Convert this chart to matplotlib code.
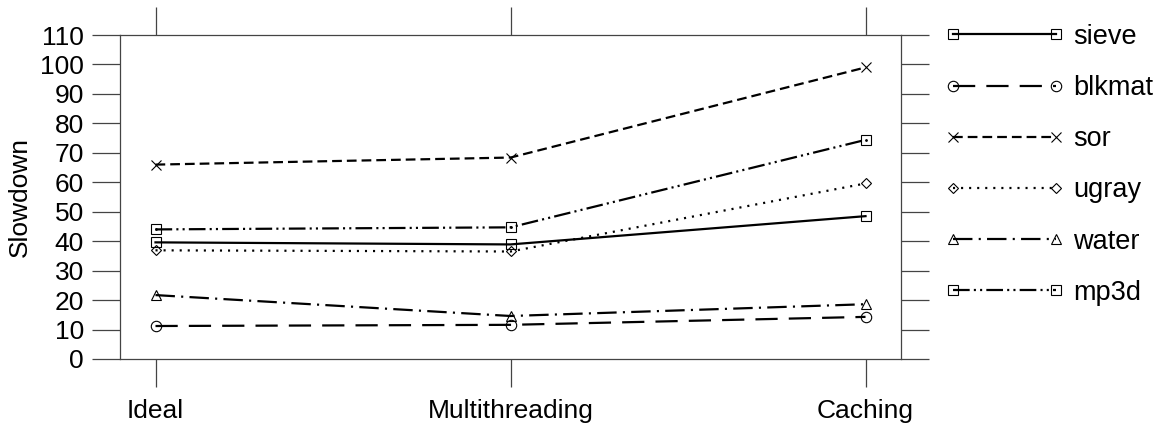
import matplotlib
matplotlib.use("Agg")
import matplotlib.pyplot as plt

plt.rcParams['font.family'] = ['Liberation Sans', 'DejaVu Sans']
plt.rcParams['lines.scale_dashes'] = False

categories = ["Ideal", "Multithreading", "Caching"]
sieve = [39.6, 38.9, 48.5]
blkmat = [11.2, 11.6, 14.3]
sor = [66.0, 68.4, 99.0]
ugray = [36.9, 36.5, 59.6]
water = [21.7, 14.6, 18.6]
mp3d = [44.0, 44.7, 74.4]

series = [
    ("sieve", sieve, "-", "s"),
    ("blkmat", blkmat, (0, (16, 8)), "o"),
    ("sor", sor, (0, (7, 3.6)), "x"),
    ("ugray", ugray, (0, (1.5, 4.3)), "D"),
    ("water", water, (0, (14, 4.5, 1.5, 4.5)), "^"),
    ("mp3d", mp3d, (0, (12, 3, 1.5, 3, 1.5, 3)), "s"),
]
msizes = {"s": 7, "o": 7.5, "x": 7.5, "D": 5, "^": 6.5}

fig = plt.figure(figsize=(11.55, 4.25), dpi=100)
ax = fig.add_axes([0.1039, 0.1553, 0.6762, 0.7623])

x = range(len(categories))
for name, vals, ls, mk in series:
    ax.plot(x, vals, linestyle=ls, color="black", linewidth=1.6,
            marker=mk, markersize=msizes[mk], fillstyle="none",
            markeredgewidth=0.8, markeredgecolor="black", label=name)
ax.plot(x, mp3d, linestyle="none", marker=".", markersize=2, color="black")

ax.set_xlim(-0.1, 2.1)
ax.set_ylim(0, 110)
ax.set_xticks(list(x))
ax.set_xticklabels(categories)
ax.set_yticks(range(0, 111, 10))
ax.set_ylabel("Slowdown", fontsize=19, labelpad=6)

for sp in ax.spines.values():
    sp.set_color("#444444")
    sp.set_linewidth(0.9)
ax.tick_params(direction="out", length=20, width=0.9, color="#444444",
               labelsize=19, top=True, right=True)
ax.tick_params(axis="y", pad=6)
ax.tick_params(axis="x", pad=9)

fig.legend(loc="upper left", bbox_to_anchor=(0.818, 0.944), frameon=False,
           fontsize=19.5, handlelength=4.4, handletextpad=0.35,
           labelspacing=0.93, borderpad=0, borderaxespad=0, numpoints=2)

fig.savefig("out.png", dpi=100)
